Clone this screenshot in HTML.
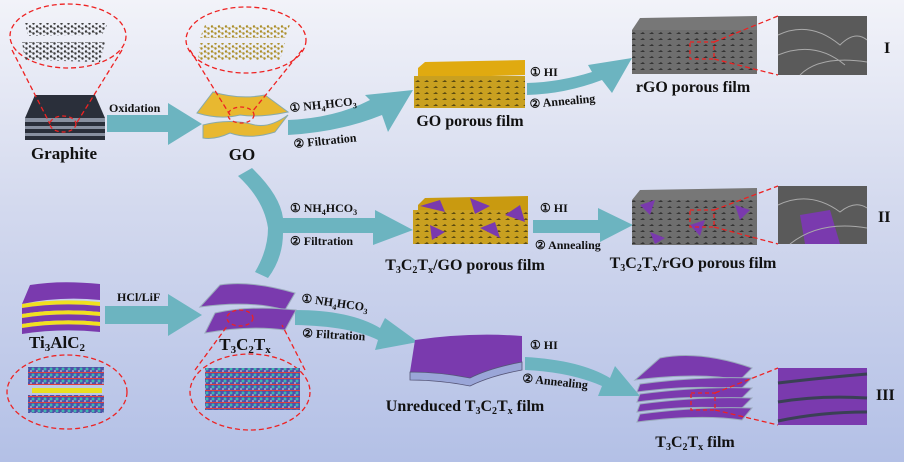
<!DOCTYPE html>
<html><head><meta charset="utf-8"><style>
html,body{margin:0;padding:0;width:904px;height:462px;overflow:hidden}
svg{display:block}
text{font-family:"Liberation Serif",serif;font-weight:bold;fill:#111}
</style></head><body>
<svg width="904" height="462" viewBox="0 0 904 462" xmlns="http://www.w3.org/2000/svg">
<defs>
<linearGradient id="bg" x1="0" y1="0" x2="0" y2="1">
<stop offset="0" stop-color="#f2f3f9"/><stop offset="0.45" stop-color="#d3d9ee"/><stop offset="1" stop-color="#b3c0e6"/>
</linearGradient>
<pattern id="hex" width="7" height="5" patternUnits="userSpaceOnUse"><circle cx="2" cy="1.5" r="1.2" fill="#333"/><circle cx="5.5" cy="3.5" r="1.2" fill="#333"/><path d="M2 1.5 L5.5 3.5" stroke="#555" stroke-width="0.6"/></pattern>
<pattern id="hexy" width="7" height="5" patternUnits="userSpaceOnUse"><circle cx="2" cy="1.5" r="1.2" fill="#a88a20"/><circle cx="5.5" cy="3.5" r="1.2" fill="#a88a20"/><path d="M2 1.5 L5.5 3.5" stroke="#b9a050" stroke-width="0.6"/></pattern>
<pattern id="pore" width="9" height="6" patternUnits="userSpaceOnUse"><rect width="9" height="6" fill="#c9a020"/><path d="M1 4 L4 2 L6 4 Z" fill="#5a4a10"/></pattern>
<pattern id="poreg" width="9" height="6" patternUnits="userSpaceOnUse"><rect width="9" height="6" fill="#6e6e6e"/><path d="M1 4 L4 2 L6 4 Z" fill="#333"/></pattern>
<pattern id="mx" width="6" height="6" patternUnits="userSpaceOnUse"><rect width="6" height="6" fill="#5050a8"/><circle cx="3" cy="3" r="1.5" fill="#40b8b0"/><rect x="0" y="0" width="6" height="1" fill="#e04040"/><circle cx="1" cy="5" r="0.8" fill="#eee"/></pattern>
</defs>
<rect width="904" height="462" fill="url(#bg)"/>
<g fill="#6cb4c0">
<path d="M107 115 H168 V103 L202 124 L168 145 V132 H107 Z"/>
<path d="M105 306 H168 V294 L202 315 L168 336 V324 H105 Z"/>
<path d="M288 120 Q335 118 370 100 L365 95 L413 90 L388 132 L382 115 Q340 132 288 135 Z"/>
<path d="M527 83 Q560 82 592 72 L588 65 L632 58 L612 93 L602 80 Q565 94 527 95 Z"/>
<path d="M252 168 Q280 195 283 218 L375 218 V210 L413 230 L373 245 V233 L283 233 Q283 258 268 278 L255 272 Q268 250 268 228 Q264 200 238 176 Z"/>
<path d="M533 220 L598 220 V208 L633 225 L600 242 V233 L533 233 Z"/>
<path d="M295 310 Q350 310 380 328 L385 318 L418 342 L375 350 L378 340 Q350 326 295 325 Z"/>
<path d="M525 357 Q580 360 610 378 L615 366 L640 396 L598 396 L602 386 Q570 372 525 370 Z"/>
</g>
<!-- Graphite -->
<g>
<path d="M25 118 L35 95 L95 95 L105 118 Z" fill="#2a2f3a"/>
<rect x="25" y="118" width="80" height="4" fill="#8890a0"/>
<rect x="25" y="122" width="80" height="4" fill="#2a2f3a"/>
<rect x="25" y="126" width="80" height="3" fill="#8890a0"/>
<rect x="25" y="129" width="80" height="4" fill="#2a2f3a"/>
<rect x="25" y="133" width="80" height="3" fill="#8890a0"/>
<rect x="25" y="136" width="80" height="4" fill="#2a2f3a"/>
<ellipse cx="68" cy="36" rx="58" ry="32" fill="none" stroke="#e22" stroke-width="1.3" stroke-dasharray="5,3"/>
<path d="M25 23 L108 23 L102 35 L28 36 Z" fill="url(#hex)"/>
<path d="M22 42 L105 42 L100 62 L25 60 Z" fill="url(#hex)"/>
<ellipse cx="63" cy="124" rx="13" ry="8" fill="none" stroke="#e22" stroke-width="1.3" stroke-dasharray="4,3"/>
<path d="M12 50 L50 124 M122 50 L76 124" stroke="#e22" stroke-width="1.3" stroke-dasharray="5,3"/>
<text x="64" y="159" font-size="17" text-anchor="middle">Graphite</text>
<text x="109" y="112" font-size="12">Oxidation</text>
</g>
<!-- GO -->
<g>
<ellipse cx="246" cy="40" rx="60" ry="33" fill="none" stroke="#e22" stroke-width="1.3" stroke-dasharray="5,3"/>
<path d="M205 25 L290 25 L285 38 L200 38 Z" fill="url(#hexy)"/>
<path d="M200 43 L285 43 L280 60 L198 60 Z" fill="url(#hexy)"/>
<path d="M213 92 Q240 100 265 95 L288 112 Q260 118 240 115 Q220 120 197 113 Z" fill="#e8b830" stroke="#8aa" stroke-width="1"/>
<path d="M203 125 Q230 118 255 125 Q270 128 288 115 L275 132 Q250 140 230 133 Q215 140 203 138 Z" fill="#e8b830" stroke="#8aa" stroke-width="1"/>
<ellipse cx="241" cy="115" rx="13" ry="8" fill="none" stroke="#e22" stroke-width="1.3" stroke-dasharray="4,3"/>
<path d="M190 50 L230 115 M302 50 L252 112" stroke="#e22" stroke-width="1.3" stroke-dasharray="5,3"/>
<text x="242" y="160" font-size="17" text-anchor="middle">GO</text>
<text x="290" y="112" font-size="12" transform="rotate(-6 290 112)">① NH<tspan font-size="8" dy="3">4</tspan><tspan dy="-3">HCO</tspan><tspan font-size="8" dy="3">3</tspan></text>
<text x="294" y="148" font-size="12" transform="rotate(-6 294 148)">② Filtration</text>
</g>
<!-- GO porous -->
<path d="M418 68 L425 62 L525 60 L525 75 L418 78 Z" fill="#e0aa10"/>
<rect x="414" y="76" width="111" height="32" fill="url(#pore)"/>
<text x="470" y="126" font-size="16" text-anchor="middle">GO porous film</text>
<text x="530" y="76" font-size="12">① HI</text>
<text x="530" y="108" font-size="12" transform="rotate(-5 530 108)">② Annealing</text>
<!-- rGO porous -->
<path d="M632 30 L640 18 L757 16 L757 30 Z" fill="#777"/>
<rect x="632" y="30" width="125" height="44" fill="url(#poreg)"/>
<rect x="690" y="42" width="24" height="17" fill="none" stroke="#e22" stroke-width="1.3" stroke-dasharray="4,3"/>
<path d="M714 42 L778 16 M714 59 L778 75" stroke="#e22" stroke-width="1.3" stroke-dasharray="5,3"/>
<rect x="778" y="16" width="89" height="59" fill="#5a5a5a"/>
<path d="M778 35 Q810 20 840 45 Q855 30 867 40 M778 55 Q815 40 845 65 M800 75 Q820 55 867 62" stroke="#aaa" fill="none"/>
<text x="884" y="53" font-size="16">I</text>
<text x="693" y="92" font-size="16" text-anchor="middle">rGO porous film</text>
<!-- row II -->
<text x="290" y="212" font-size="12">① NH<tspan font-size="8" dy="3">4</tspan><tspan dy="-3">HCO</tspan><tspan font-size="8" dy="3">3</tspan></text>
<text x="290" y="245" font-size="12">② Filtration</text>
<path d="M418 205 L425 198 L528 196 L528 210 L418 213 Z" fill="#c99a10"/>
<rect x="413" y="210" width="115" height="34" fill="url(#pore)"/>
<path d="M420 206 L440 200 L445 212 Z M470 198 L490 206 L475 214 Z M505 215 L520 205 L525 222 Z M430 225 L445 232 L432 240 Z M480 228 L495 222 L500 238 Z" fill="#7a3aae"/>
<text x="465" y="270" font-size="16" text-anchor="middle">T<tspan font-size="10" dy="3">3</tspan><tspan dy="-3">C</tspan><tspan font-size="10" dy="3">2</tspan><tspan dy="-3">T</tspan><tspan font-size="10" dy="3">x</tspan><tspan dy="-3">/GO porous film</tspan></text>
<text x="540" y="212" font-size="12">① HI</text>
<text x="535" y="249" font-size="12">② Annealing</text>
<path d="M632 200 L640 190 L757 188 L757 200 Z" fill="#777"/>
<rect x="632" y="200" width="125" height="45" fill="url(#poreg)"/>
<path d="M640 205 L655 200 L650 215 Z M690 225 L705 220 L700 236 Z M735 205 L750 210 L740 220 Z M650 232 L665 238 L655 244 Z" fill="#7a3aae"/>
<rect x="690" y="210" width="24" height="17" fill="none" stroke="#e22" stroke-width="1.3" stroke-dasharray="4,3"/>
<path d="M714 210 L778 186 M714 227 L778 244" stroke="#e22" stroke-width="1.3" stroke-dasharray="5,3"/>
<rect x="778" y="186" width="89" height="58" fill="#5a5a5a"/>
<path d="M800 215 L830 210 L840 244 L805 244 Z" fill="#7a3aae"/>
<path d="M778 205 Q810 190 840 212 Q855 200 867 208 M790 244 Q820 220 867 228" stroke="#aaa" fill="none"/>
<text x="878" y="222" font-size="16">II</text>
<text x="693" y="268" font-size="16" text-anchor="middle">T<tspan font-size="10" dy="3">3</tspan><tspan dy="-3">C</tspan><tspan font-size="10" dy="3">2</tspan><tspan dy="-3">T</tspan><tspan font-size="10" dy="3">x</tspan><tspan dy="-3">/rGO porous film</tspan></text>
<!-- Ti3AlC2 -->
<g>
<path d="M30 285 Q60 280 100 284 L100 300 Q60 296 22 304 Z" fill="#7a3aae"/>
<path d="M22 304 Q60 298 100 302 L100 306 Q60 302 22 308 Z" fill="#f0e020"/>
<path d="M22 308 Q60 302 100 306 L100 312 Q60 308 22 314 Z" fill="#7a3aae"/>
<path d="M22 314 Q60 308 100 312 L100 316 Q60 312 22 318 Z" fill="#f0e020"/>
<path d="M22 318 Q60 312 100 316 L100 322 Q60 318 22 324 Z" fill="#7a3aae"/>
<path d="M22 324 Q60 318 100 322 L100 326 Q60 322 22 328 Z" fill="#f0e020"/>
<path d="M22 328 Q60 322 100 326 L100 332 Q60 328 22 334 Z" fill="#7a3aae"/>
<text x="57" y="348" font-size="17" text-anchor="middle">Ti<tspan font-size="11" dy="3">3</tspan><tspan dy="-3">AlC</tspan><tspan font-size="11" dy="3">2</tspan></text>
<ellipse cx="67" cy="392" rx="60" ry="37" fill="none" stroke="#e22" stroke-width="1.3" stroke-dasharray="5,3"/>
<rect x="28" y="367" width="76" height="18" fill="url(#mx)"/>
<rect x="32" y="388" width="70" height="5" fill="#e8e020"/>
<rect x="28" y="395" width="76" height="18" fill="url(#mx)"/>
<text x="117" y="301" font-size="12">HCl/LiF</text>
</g>
<!-- T3C2Tx -->
<g>
<path d="M220 285 Q250 280 295 293 L285 310 Q250 300 200 307 Z" fill="#7a3aae" stroke="#9ab" stroke-width="1"/>
<path d="M215 313 Q250 305 296 310 L285 330 Q250 325 205 333 Z" fill="#7a3aae" stroke="#9ab" stroke-width="1"/>
<ellipse cx="240" cy="318" rx="13" ry="8" fill="none" stroke="#e22" stroke-width="1.3" stroke-dasharray="4,3"/>
<text x="245" y="350" font-size="17" text-anchor="middle">T<tspan font-size="11" dy="3">3</tspan><tspan dy="-3">C</tspan><tspan font-size="11" dy="3">2</tspan><tspan dy="-3">T</tspan><tspan font-size="11" dy="3">x</tspan></text>
<ellipse cx="250" cy="392" rx="60" ry="38" fill="none" stroke="#e22" stroke-width="1.3" stroke-dasharray="5,3"/>
<rect x="205" y="368" width="95" height="42" fill="url(#mx)"/>
<path d="M195 370 L228 325 M305 370 L282 325" stroke="#e22" stroke-width="1.3" stroke-dasharray="5,3"/>
<text x="301" y="302" font-size="12" transform="rotate(8 301 302)">① NH<tspan font-size="8" dy="3">4</tspan><tspan dy="-3">HCO</tspan><tspan font-size="8" dy="3">3</tspan></text>
<text x="302" y="337" font-size="12" transform="rotate(3 302 337)">② Filtration</text>
</g>
<!-- Unreduced -->
<path d="M415 340 Q470 332 522 336 L522 362 Q490 368 470 378 Q440 372 410 372 Z" fill="#7a3aae"/>
<path d="M410 372 Q440 372 470 378 Q490 368 522 362 L522 370 Q490 376 470 386 Q440 380 410 380 Z" fill="#9aa6d8" stroke="#557" stroke-width="0.8"/>
<text x="465" y="411" font-size="16" text-anchor="middle">Unreduced T<tspan font-size="10" dy="3">3</tspan><tspan dy="-3">C</tspan><tspan font-size="10" dy="3">2</tspan><tspan dy="-3">T</tspan><tspan font-size="10" dy="3">x</tspan><tspan dy="-3"> film</tspan></text>
<text x="530" y="349" font-size="12">① HI</text>
<text x="522" y="382" font-size="12" transform="rotate(6 522 382)">② Annealing</text>
<!-- T3C2Tx film -->
<g fill="#7a3aae" stroke="#9ab" stroke-width="1">
<path d="M660 358 Q700 350 752 368 L740 380 Q700 372 635 380 Z"/>
<path d="M640 384 Q700 376 752 378 L740 390 Q700 384 637 392 Z"/>
<path d="M640 394 Q700 386 752 388 L740 400 Q700 394 637 402 Z"/>
<path d="M640 404 Q700 396 752 398 L740 410 Q700 404 637 412 Z"/>
<path d="M640 414 Q700 406 752 408 L742 420 Q700 414 637 422 Z"/>
</g>
<rect x="691" y="393" width="24" height="17" fill="none" stroke="#e22" stroke-width="1.3" stroke-dasharray="4,3"/>
<path d="M715 393 L778 368 M715 410 L778 425" stroke="#e22" stroke-width="1.3" stroke-dasharray="5,3"/>
<rect x="778" y="368" width="89" height="57" fill="#7a3aae"/>
<path d="M778 383 Q820 378 867 374 M778 402 Q820 395 867 398 M778 421 Q820 412 867 412" stroke="#3a4055" stroke-width="3" fill="none"/>
<text x="876" y="400" font-size="16">III</text>
<text x="695" y="447" font-size="16" text-anchor="middle">T<tspan font-size="10" dy="3">3</tspan><tspan dy="-3">C</tspan><tspan font-size="10" dy="3">2</tspan><tspan dy="-3">T</tspan><tspan font-size="10" dy="3">x</tspan><tspan dy="-3"> film</tspan></text>
</svg>
</body></html>
